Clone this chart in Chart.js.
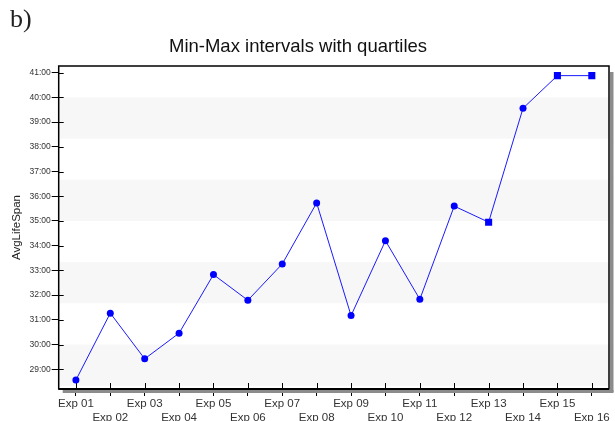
<!DOCTYPE html>
<html>
<head>
<meta charset="utf-8">
<script src="https://cdn.jsdelivr.net/npm/chart.js@4"></script>
<style>
  body { margin: 0; background: #fff; }
  #wrap { position: relative; width: 615px; height: 421px; overflow: hidden; }
  #tag { position: absolute; left: 10px; top: 4px; font: 26px "Liberation Serif", serif; color: #222; }
</style>
</head>
<body>
<div id="wrap">
  <canvas id="myChart" width="615" height="421"></canvas>
  <div id="tag">b)</div>
</div>
<script>
// datos
const experiments = ["Exp 01", "Exp 02", "Exp 03", "Exp 04", "Exp 05", "Exp 06", "Exp 07", "Exp 08",
  "Exp 09", "Exp 10", "Exp 11", "Exp 12", "Exp 13", "Exp 14", "Exp 15", "Exp 16"];
const avgLifeSpan = [28.56, 31.27, 29.42, 30.46, 32.83, 31.79, 33.26, 35.73,
  31.17, 34.2, 31.83, 35.6, 34.95, 39.56, 40.88, 40.88];
// franjas grises del fondo (pares: desde, hasta)
const bandEdges = [40, 38.33, 36.67, 35, 33.33, 31.67, 30, 28.33];
// puntos dibujados como cuadrado
const squareAt = [12, 14, 15];

const font = "'Liberation Sans', Arial, sans-serif";

// Fondo, ticks interiores, marco y sombra
const framePlugin = {
  id: "frame",
  beforeDatasetsDraw(chart) {
    const { ctx, chartArea: a, scales } = chart;
    const x = scales.x;
    const y = scales.y;
    ctx.save();
    ctx.fillStyle = "#f7f7f7";
    for (let i = 0; i + 1 < bandEdges.length; i += 2) {
      const top = y.getPixelForValue(bandEdges[i]);
      const bot = y.getPixelForValue(bandEdges[i + 1]);
      ctx.fillRect(a.left, top, a.right - a.left, bot - top);
    }

    ctx.strokeStyle = "#000";
    ctx.lineWidth = 1;
    ctx.beginPath();
    y.ticks.forEach((t, i) => {
      const py = Math.round(y.getPixelForTick(i)) + 0.5;
      ctx.moveTo(a.left, py);
      ctx.lineTo(a.left + 5, py);
    });
    x.ticks.forEach((t, i) => {
      const px = Math.round(x.getPixelForTick(i)) + 0.5;
      ctx.moveTo(px, a.bottom);
      ctx.lineTo(px, a.bottom - 6);
    });
    ctx.stroke();

    ctx.fillStyle = "#8c8c8c";
    ctx.fillRect(a.right + 1, a.top + 6, 3.5, a.bottom - a.top - 3);
    ctx.fillRect(a.left + 4, a.bottom + 1, a.right - a.left + 0.5, 3);

    ctx.lineWidth = 1.5;
    ctx.strokeRect(a.left, a.top, a.right - a.left, a.bottom - a.top);
    ctx.lineWidth = 2;
    ctx.beginPath();
    ctx.moveTo(a.left, a.bottom);
    ctx.lineTo(a.right, a.bottom);
    ctx.stroke();
    ctx.restore();
  },
};

const ctx = document.getElementById("myChart").getContext("2d");

const chart = new Chart(ctx, {
  type: "line",
  data: {
    labels: experiments,
    datasets: [
      {
        label: "AvgLifeSpan",
        data: avgLifeSpan,
        borderColor: "#1a1aff",
        backgroundColor: "#0000ff",
        borderWidth: 1,
        tension: 0,
        pointStyle: (c) => (squareAt.includes(c.dataIndex) ? "rect" : "circle"),
        pointRadius: (c) => (squareAt.includes(c.dataIndex) ? 5 : 3.5),
        pointBorderWidth: 0,
        pointBackgroundColor: "#0000ff",
      },
    ],
  },
  options: {
    responsive: false,
    animation: false,
    devicePixelRatio: 1,
    layout: { padding: { left: -13, right: 6, top: 0, bottom: 0 } },
    plugins: {
      legend: { display: false },
      tooltip: { enabled: false },
      title: {
        display: true,
        text: "Min-Max intervals with quartiles",
        color: "#111",
        font: { family: font, size: 18.5, weight: "normal" },
        padding: { top: 35.9, bottom: 7.9 },
      },
    },
    scales: {
      x: {
        offset: true,
        afterFit: (scale) => { scale.height = 32; },
        grid: { drawOnChartArea: false, tickLength: 7, color: "#000", lineWidth: 1 },
        border: { display: false },
        ticks: {
          autoSkip: false,
          maxRotation: 0,
          padding: 1,
          color: "#333",
          font: { family: font, size: 11.5 },
          callback: function (value, i) {
            const label = this.getLabelForValue(value);
            return i % 2 ? ["", label] : label;
          },
        },
      },
      y: {
        min: 28.2,
        max: 41.27,
        afterFit: (scale) => { scale.width = 71.7; },
        grid: { drawOnChartArea: false, tickLength: 7, color: "#000", lineWidth: 1 },
        border: { display: false },
        title: {
          display: true,
          text: "AvgLifeSpan",
          color: "#222",
          font: { family: font, size: 11.5 },
          padding: { top: 23, bottom: 0 },
        },
        ticks: {
          stepSize: 1,
          includeBounds: false,
          padding: 1,
          color: "#333",
          font: { family: font, size: 8.5 },
          callback: (value) => `${value}:00`,
        },
      },
    },
  },
  plugins: [framePlugin],
});
</script>
</body>
</html>
